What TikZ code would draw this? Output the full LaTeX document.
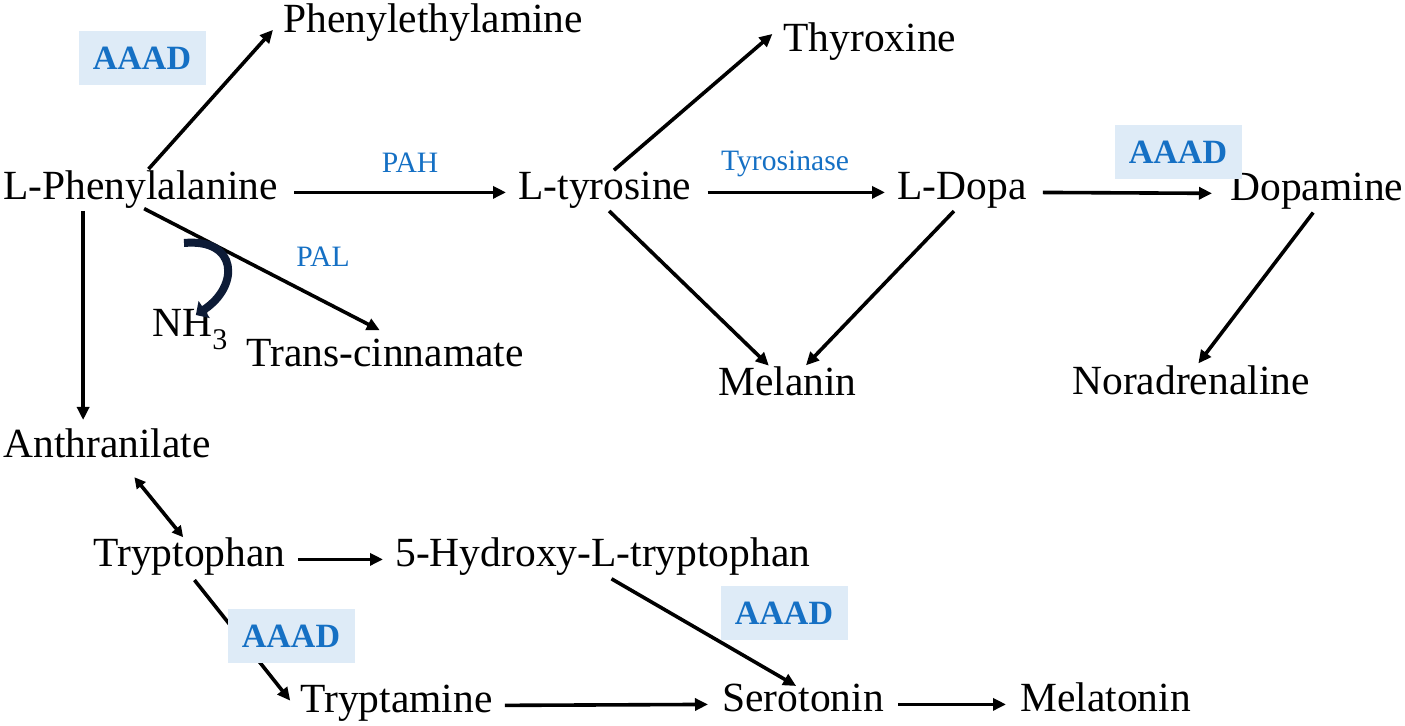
\documentclass[tikz,border=0pt]{standalone}
\usepackage{fontspec}
\setmainfont{Liberation Serif}
\usepackage{xcolor}
\usepackage{tikz}
\usetikzlibrary{calc,arrows.meta}
\definecolor{ink}{HTML}{000000}
\definecolor{enzblue}{HTML}{1570C4}
\definecolor{boxblue}{HTML}{DEEBF7}
\definecolor{navy}{HTML}{0D1B36}
\tikzset{
  mol/.style={text=ink, font=\fontsize{20.75}{24}\selectfont, inner sep=3pt, text height=0.78em, text depth=0.02em, anchor=base west},
  enz/.style={text=enzblue, font=\fontsize{14.8}{17}\selectfont, inner sep=0pt},
  aaad/.style={fill=boxblue, text=enzblue, font=\bfseries\fontsize{17}{20}\selectfont, minimum width=63.5pt, minimum height=27pt, inner sep=0pt},
  rx/.style={draw=ink, line width=1.8pt, shorten <=5pt, shorten >=3pt, -{Triangle[length=6.5pt,width=6pt]}},
  rxx/.style={rx, {Triangle[length=5.5pt,width=5.5pt]}-{Triangle[length=5.5pt,width=5.5pt]}},
  loss/.style={draw=navy, line width=4pt, -{Triangle[length=5pt,width=10pt]}},
}

\begin{document}
\begin{tikzpicture}[x=0.5pt, y=-0.5pt]
  \useasboundingbox (0,0) rectangle (1405,726);

  % compounds
  \node[mol] (lphe) at (-3,200) {L-Phenylalanine};
  \node[mol] (pea) at (277,33) {Phenylethylamine};
  \node[mol] (ltyr) at (512,200) {L-tyrosine};
  \node[mol] (thyr) at (777,52) {Thyroxine};
  \node[mol] (ldopa) at (891,200) {L-Dopa};
  \node[mol] (dopa) at (1224,201) {Dopamine};
  \node[mol] (nh3) at (146,337) {NH\raisebox{-0.3em}{\fontsize{15}{15}\selectfont 3}};
  \node[mol] (cinn) at (240,367) {Trans-cinnamate};
  \node[mol] (melanin) at (712,396) {Melanin};
  \node[mol] (norad) at (1066,395) {Noradrenaline};
  \node[mol] (anth) at (-3,458) {Anthranilate};
  \node[mol] (trp) at (87,567) {Tryptophan};
  \node[mol] (htp) at (389,567) {5-Hydroxy-L-tryptophan};
  \node[mol] (trm) at (294,713) {Tryptamine};
  \node[mol] (ser) at (716,712) {Serotonin};
  \node[mol] (mel) at (1014,712) {Melatonin};

  % reactions
  \draw[rx, shorten <=6pt] (lphe.north) -- (pea.west);
  \draw[rx] (lphe.east) -- (ltyr.west);
  \draw[rx, shorten <=2pt] (lphe.south) -- ([yshift=6pt]cinn.north);
  \coordinate (down) at ($(lphe.south west)!0.3!(lphe.south east)$);
  \draw[rx, shorten <=2pt, shorten >=8pt] (down) -- (down |- anth.north);
  \draw[rx, shorten <=6pt] (ltyr.north) -- (thyr.north west);
  \draw[rx] (ltyr.east) -- (ldopa.west);
  \draw[rx, shorten <=3pt, shorten >=6pt] (ltyr.south) -- (melanin.125);
  \draw[rx, shorten <=3pt, shorten >=6pt] (ldopa.-105) -- (melanin.55);
  \draw[rx, shorten >=6pt] (ldopa.east) -- (dopa.west);
  \draw[rx, shorten <=3pt, shorten >=6pt] (dopa.south) -- (norad.north);
  \draw[rxx, shorten <=8pt, shorten >=5pt] (anth.-40) -- (trp.north);
  \draw[rx, shorten <=3pt] (trp.east) -- (htp.west);
  \draw[rx, shorten <=4pt] (trp.south) -- (trm.west);
  \draw[rx, shorten >=4pt] (htp.south) -- (ser.north);
  \draw[rx, shorten <=3pt, shorten >=4pt] (trm.east) -- (ser.west);
  \draw[rx, shorten <=4pt, shorten >=4pt] (ser.east) -- (mel.west);

  % enzymes
  \node[enz] (pah) at (410,163) {PAH};
  \node[enz] (tyrase) at (785,164) {Tyrosinase};
  \node[enz] (pal) at (323,257) {PAL};
  \node[aaad] (aaad1) at (142,58) {AAAD};
  \node[aaad] (aaad2) at (1178,152) {AAAD};
  \node[aaad] (aaad3) at (291,636) {AAAD};
  \node[aaad] (aaad4) at (784,613) {AAAD};

  % ammonia release
  \coordinate (nhfrom) at (184,243);
  \draw[loss] (nhfrom) .. controls (238,238) and (240,286) .. ([xshift=3pt]nh3.north);
\end{tikzpicture}
\end{document}
